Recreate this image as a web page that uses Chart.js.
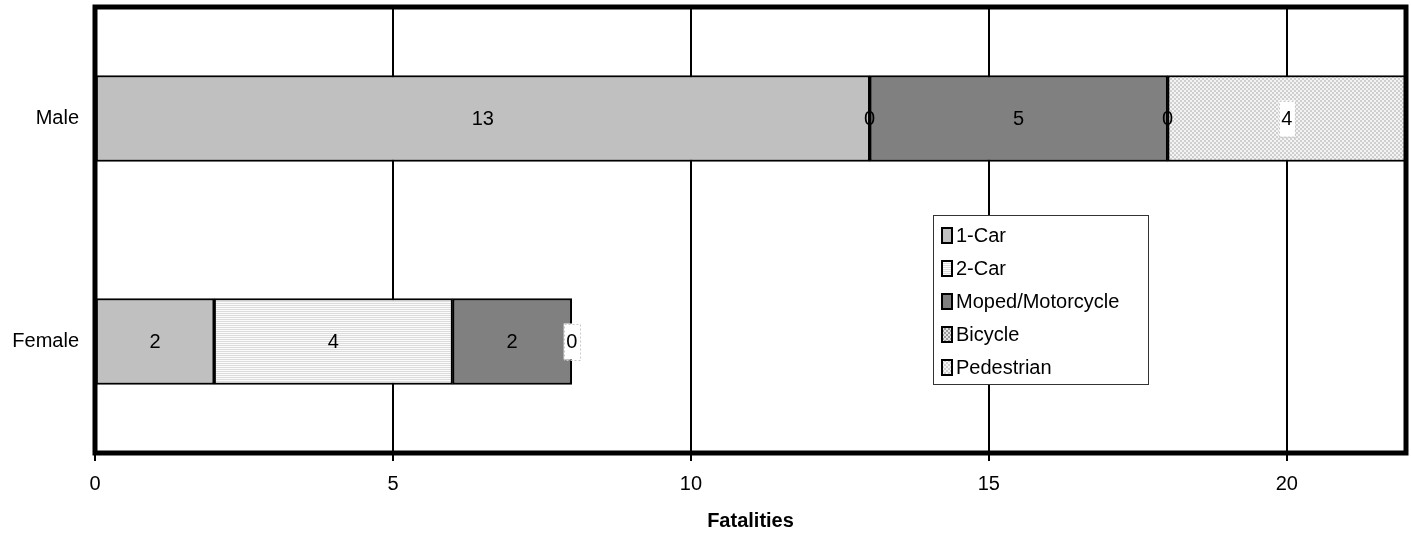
<!DOCTYPE html>
<html>
<head>
<meta charset="utf-8">
<script src="https://cdn.jsdelivr.net/npm/chart.js@4/dist/chart.umd.min.js"></script>
<style>
  html, body { margin: 0; padding: 0; background: #fff; }
  #wrap { width: 1411px; height: 533px; }
</style>
</head>
<body>
<div id="wrap"><canvas id="c" width="1411" height="533"></canvas></div>
<script>
// Fatalities by gender and crash type
const genders = ['Male', 'Female'];
const seriesNames = ['1-Car', '2-Car', 'Moped/Motorcycle', 'Bicycle', 'Pedestrian'];
const oneCar = [13, 2];
const twoCar = [0, 4];
const moped = [5, 2];
const bicycle = [0, 0];
const pedestrian = [4, 0];
const xTicks = [0, 5, 10, 15, 20];

const FONT = 'Arial, "Liberation Sans", sans-serif';
const FONT_SIZE = 20;

// Small repeating fill textures
function makePattern(w, h, drawFn) {
  const c = document.createElement('canvas');
  c.width = w; c.height = h;
  const g = c.getContext('2d');
  drawFn(g);
  return document.createElement('canvas').getContext('2d').createPattern(c, 'repeat');
}
const stripePattern = makePattern(2, 2, g => {
  g.fillStyle = '#fbfbfb'; g.fillRect(0, 0, 2, 2);
  g.fillStyle = '#dcdcdc'; g.fillRect(0, 1, 2, 1);
});
const darkDotPattern = makePattern(4, 4, g => {
  g.fillStyle = '#e4e4e4'; g.fillRect(0, 0, 4, 4);
  g.fillStyle = '#9a9a9a'; g.fillRect(0, 0, 2, 2); g.fillRect(2, 2, 2, 2);
});
const lightDotPattern = makePattern(4, 4, g => {
  g.fillStyle = '#f4f4f4'; g.fillRect(0, 0, 4, 4);
  g.fillStyle = '#cfcfcf'; g.fillRect(0, 0, 2, 2); g.fillRect(2, 2, 2, 2);
});

const seriesValues = [oneCar, twoCar, moped, bicycle, pedestrian];
const fills = ['#c0c0c0', stripePattern, '#808080', darkDotPattern, lightDotPattern];
const boxedLabel = [false, false, false, false, true];

const datasets = seriesNames.map((name, i) => ({
  label: name,
  data: seriesValues[i],
  backgroundColor: fills[i],
  borderColor: '#000',
  borderWidth: 2,
  borderSkipped: false,
  barThickness: 86,
  boxed: boxedLabel[i]
}));

// Value labels centred on each stacked segment
const valueLabels = {
  id: 'valueLabels',
  afterDatasetsDraw(chart) {
    const ctx = chart.ctx;
    ctx.save();
    ctx.font = FONT_SIZE + 'px ' + FONT;
    ctx.textAlign = 'center';
    ctx.textBaseline = 'middle';
    chart.data.datasets.forEach((ds, di) => {
      const meta = chart.getDatasetMeta(di);
      meta.data.forEach((bar, idx) => {
        const v = ds.data[idx];
        const p = bar.getProps(['x', 'y', 'base'], true);
        const cx = (p.x + p.base) / 2;
        const cy = p.y;
        const txt = String(v);
        if (ds.boxed) {
          const w = ctx.measureText(txt).width + 5;
          ctx.fillStyle = '#fff';
          ctx.fillRect(cx - w / 2, cy - 18, w, 36);
          ctx.setLineDash([2, 2]);
          ctx.strokeStyle = '#c8c8c8';
          ctx.lineWidth = 1;
          ctx.strokeRect(Math.round(cx - w / 2) + 0.5, Math.round(cy - 18) + 0.5, Math.round(w), 36);
          ctx.setLineDash([]);
        }
        ctx.fillStyle = '#000';
        ctx.fillText(txt, cx, cy + 1);
      });
    });
    ctx.restore();
  }
};

// Heavy frame around the plot area
const plotFrame = {
  id: 'plotFrame',
  afterDraw(chart) {
    const a = chart.chartArea;
    const ctx = chart.ctx;
    ctx.save();
    ctx.strokeStyle = '#000';
    ctx.lineWidth = 5;
    ctx.strokeRect(a.left, a.top, a.right - a.left, a.bottom - a.top);
    ctx.restore();
  }
};

// Boxed legend inside the plot
const boxLegend = {
  id: 'boxLegend',
  afterDraw(chart) {
    const ctx = chart.ctx;
    const x0 = 933, y0 = 215, w = 215, h = 169;
    ctx.save();
    ctx.fillStyle = '#fff';
    ctx.fillRect(x0, y0, w, h);
    ctx.strokeStyle = '#333';
    ctx.lineWidth = 1;
    ctx.strokeRect(x0 + 0.5, y0 + 0.5, w, h);
    ctx.font = FONT_SIZE + 'px ' + FONT;
    ctx.textBaseline = 'middle';
    ctx.textAlign = 'left';
    chart.data.datasets.forEach((ds, i) => {
      const cy = y0 + 20 + i * 33;
      ctx.fillStyle = ds.backgroundColor;
      ctx.fillRect(x0 + 9, cy - 7, 10, 15);
      ctx.strokeStyle = '#000';
      ctx.lineWidth = 2;
      ctx.strokeRect(x0 + 9, cy - 7, 10, 15);
      ctx.fillStyle = '#000';
      ctx.fillText(ds.label, x0 + 23, cy + 1);
    });
    ctx.restore();
  }
};

new Chart(document.getElementById('c'), {
  type: 'bar',
  data: { labels: genders, datasets },
  options: {
    responsive: false,
    animation: false,
    indexAxis: 'y',
    layout: { padding: { top: 7, right: 5, left: 0, bottom: 0 } },
    plugins: {
      legend: { display: false },
      tooltip: { enabled: false }
    },
    scales: {
      x: {
        stacked: true,
        min: 0,
        max: 22,
        afterBuildTicks(scale) {
          scale.ticks = xTicks.map(v => ({ value: v }));
        },
        afterFit(scale) {
          scale.height = 80;
          scale.paddingLeft = 0;
          scale.paddingRight = 0;
        },
        grid: {
          color: '#000',
          lineWidth: 2,
          tickLength: 8,
          drawTicks: true
        },
        border: { display: false },
        ticks: {
          color: '#000',
          font: { family: FONT, size: FONT_SIZE },
          padding: 11,
          maxRotation: 0
        },
        title: {
          display: true,
          text: 'Fatalities',
          color: '#000',
          font: { family: FONT, size: FONT_SIZE, weight: 'bold' },
          padding: { top: 6, bottom: 0 }
        }
      },
      y: {
        stacked: true,
        afterFit(scale) {
          scale.width = 95;
          scale.paddingTop = 0;
          scale.paddingBottom = 0;
        },
        grid: { display: false, drawTicks: false },
        border: { display: false },
        ticks: {
          color: '#000',
          font: { family: FONT, size: FONT_SIZE },
          padding: 16
        }
      }
    }
  },
  plugins: [valueLabels, plotFrame, boxLegend]
});
</script>
</body>
</html>
